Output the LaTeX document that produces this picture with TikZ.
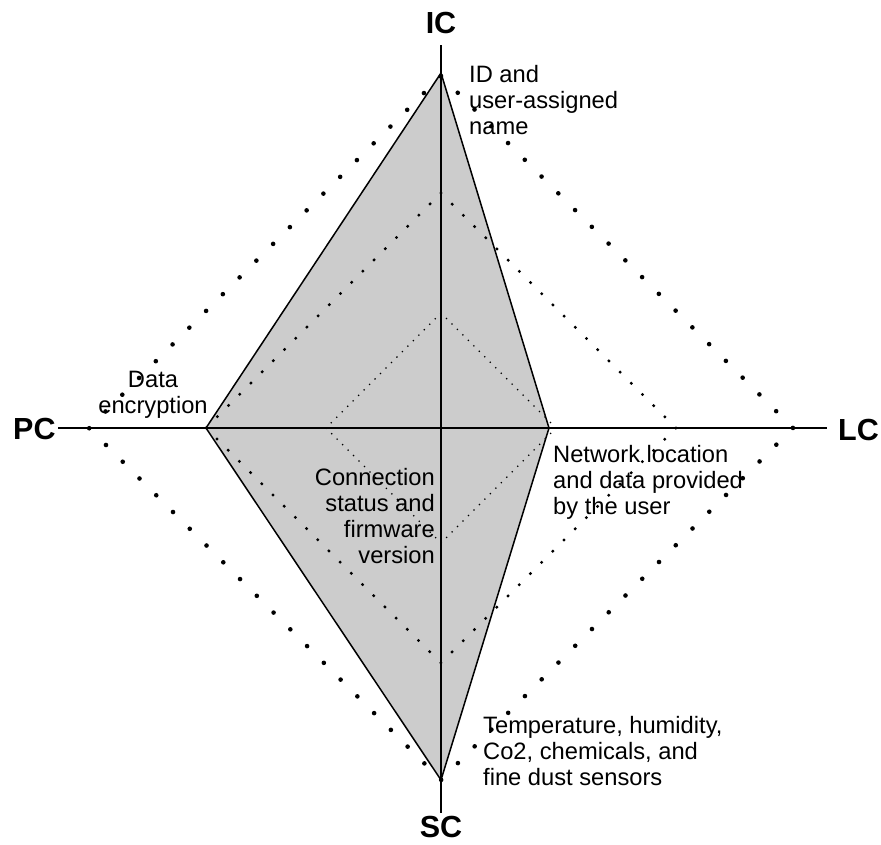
\documentclass[tikz,border=0pt]{standalone}
\usepackage{fontspec}
\setmainfont{Liberation Sans}
\definecolor{areafill}{RGB}{204,204,204}
\begin{document}
\begin{tikzpicture}[x=1pt,y=-1pt,
  axisline/.style={line width=1.5pt},
  areashape/.style={fill=areafill,draw=black,line width=1.5pt,line join=miter},
  ringouter/.style={line width=4.6pt,line cap=round,dash pattern=on 0pt off 23.70pt},
  ringmiddle/.style={line width=3.4pt,line cap=round,dash pattern=on 0pt off 15.83pt},
  ringinner/.style={line width=1.8pt,line cap=round,dash pattern=on 0pt off 7.74pt},
  axislabel/.style={font=\fontsize{30.5}{34}\selectfont\bfseries,inner sep=0pt},
  note/.style={font=\fontsize{23.7}{26}\selectfont,inner sep=0pt}]
\useasboundingbox (0,0) rectangle (881,844);

% centre and axis end points
\coordinate (O) at (441,428);
\coordinate (top) at (441,45);
\coordinate (bottom) at (441,813);
\coordinate (left) at (58,428);
\coordinate (right) at (827,428);

% shaded profile
\coordinate (pI) at (441,73);
\coordinate (pL) at (549,428);
\coordinate (pS) at (441,780);
\coordinate (pP) at (206,428);
\fill[areafill] (pI) -- (pL) -- (pS) -- (pP) -- cycle;

% dotted reference rings
\draw[ringinner]  (441,313) -- (556,428) -- (441,543) -- (326,428) -- cycle;
\draw[ringmiddle] (441,193) -- (676,428) -- (441,663) -- (206,428) -- cycle;
\draw[ringouter]  (441,76)  -- (793,428) -- (441,780) -- (89,428)  -- cycle;

% axes
\draw[axisline] (top) -- (bottom);
\draw[axisline] (left) -- (right);

% profile outline
\draw[areashape,fill=none] (pI) -- (pL) -- (pS) -- (pP) -- cycle;

% axis labels
\node[axislabel,anchor=base] (ic) at (441,33) {IC};
\node[axislabel,anchor=base] (sc) at (441,837) {SC};
\node[axislabel,anchor=base west] (pc) at (13,439) {PC};
\node[axislabel,anchor=base west] (lc) at (838,440) {LC};

% annotations (anchored on the baseline of the last line)
\node[note,anchor=base west,align=left] (nid) at (469,134)
  {ID and\\user-assigned\\name};
\node[note,anchor=base,align=center] (nenc) at (153,413)
  {Data\\encryption};
\node[note,anchor=base east,align=right] (ncon) at (435,563)
  {Connection\\status and\\firmware\\version};
\node[note,anchor=base west,align=left] (nnet) at (553,514)
  {Network location\\and data provided\\by the user};
\node[note,anchor=base west,align=left] (nsen) at (483,785)
  {Temperature, humidity,\\Co2, chemicals, and\\fine dust sensors};
\end{tikzpicture}
\end{document}
